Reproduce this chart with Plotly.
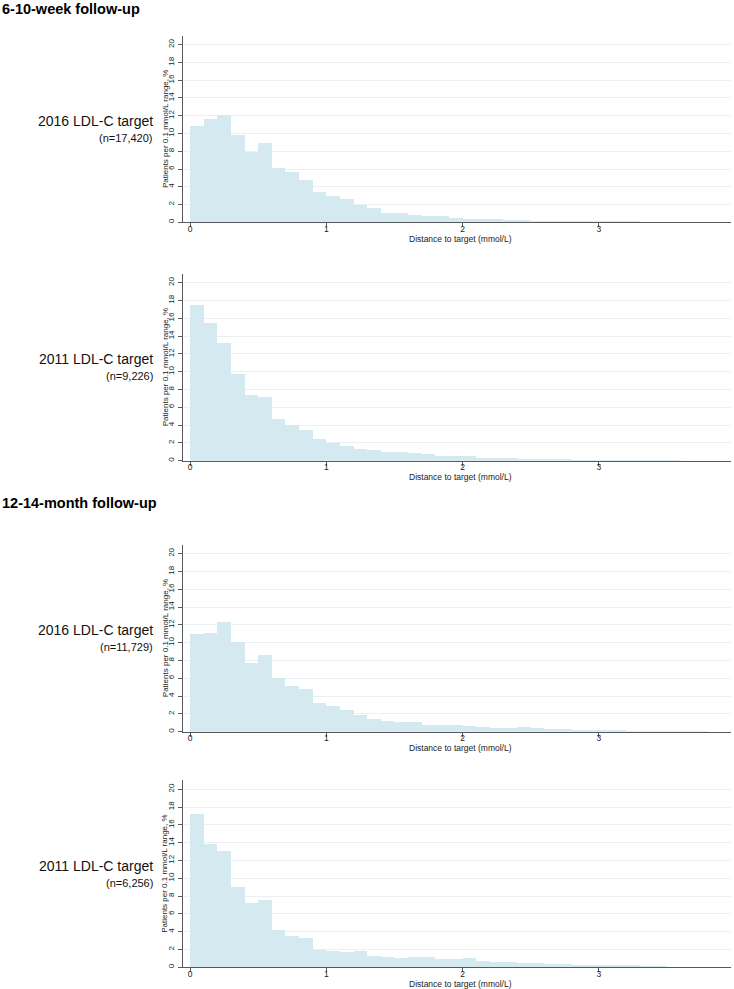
import plotly.graph_objects as go

# ---- data (percent of patients per 0.1 mmol/L bin, bins start at 0.0, 0.1, ...) ----
bin_width = 0.1
wk_2016 = [10.9, 11.6, 12.1, 9.85, 7.9, 9.0, 6.15, 5.65, 4.8, 3.4, 2.97, 2.6, 2.0, 1.62,
           1.12, 1.1, 0.9, 0.76, 0.68, 0.56, 0.45, 0.41, 0.34, 0.26, 0.23, 0.2, 0.17, 0.14,
           0.12, 0.1, 0.08, 0.07, 0.06, 0.05, 0.04, 0.03, 0.02, 0.02]
wk_2011 = [17.5, 15.45, 13.25, 9.72, 7.4, 7.14, 4.67, 4.07, 3.44, 2.43, 1.98, 1.7, 1.3, 1.22,
           0.97, 0.95, 0.85, 0.78, 0.55, 0.53, 0.5, 0.32, 0.3, 0.3, 0.19, 0.16, 0.15, 0.12,
           0.08, 0.06, 0.05, 0.05, 0.04, 0.02, 0.02, 0.01]
mo_2016 = [10.95, 11.15, 12.3, 10.15, 7.7, 8.7, 6.1, 5.2, 4.78, 3.28, 2.88, 2.52, 1.88, 1.42,
           1.26, 1.09, 1.09, 0.81, 0.84, 0.75, 0.68, 0.6, 0.5, 0.49, 0.52, 0.45, 0.38, 0.34,
           0.23, 0.23, 0.19, 0.15, 0.1, 0.06, 0.04, 0.03, 0.03, 0.02]
mo_2011 = [17.2, 13.8, 13.0, 8.95, 7.22, 7.48, 4.1, 3.46, 3.25, 1.95, 1.76, 1.72, 1.8, 1.27,
           1.12, 1.05, 1.14, 1.14, 0.85, 0.85, 1.0, 0.65, 0.56, 0.56, 0.45, 0.4, 0.34, 0.32,
           0.2, 0.18, 0.15, 0.14, 0.12, 0.02, 0.02]

series = [wk_2016, wk_2011, mo_2016, mo_2011]
row_labels = ["2016 LDL-C target", "2011 LDL-C target", "2016 LDL-C target", "2011 LDL-C target"]
row_ns = ["(n=17,420)", "(n=9,226)", "(n=11,729)", "(n=6,256)"]
headings = ["6-10-week follow-up", "12-14-month follow-up"]
y_ticks = [0, 2, 4, 6, 8, 10, 12, 14, 16, 18, 20]
x_ticks = [0, 1, 2, 3]
y_title = "Patients per 0.1 mmol/L range, %"
x_title = "Distance to target (mmol/L)"

# ---- layout geometry (viewport pixels) ----
W, H = 734, 989
FONT = "Liberation Sans, Arial, sans-serif"
BAR_COLOR = "#d5e9f0"
GRID = "#eaf1f3"
AXIS = "#55595c"
x_left, x_right = 183, 731
panels_px = [(35.8, 222.3), (273.8, 460.7), (544.7, 731.7), (780.3, 967.3)]
heading_y = [9, 503]


def px(vx):
    return vx / W


def py(vy):
    return 1 - vy / H


fig = go.Figure()
for i, vals in enumerate(series):
    ax = "" if i == 0 else str(i + 1)
    lefts = [k * bin_width for k in range(len(vals))]
    fig.add_trace(go.Bar(
        x=lefts, y=vals, width=bin_width, offset=0,
        marker=dict(color=BAR_COLOR, line=dict(width=0)),
        xaxis="x" + ax, yaxis="y" + ax, showlegend=False, hoverinfo="skip"))
    top, bot = panels_px[i]
    fig.layout["xaxis" + ax] = dict(
        domain=[px(x_left), px(x_right)], anchor="y" + ax, automargin=False,
        range=[-0.052, 3.97], tickvals=x_ticks, ticks="outside", ticklen=4,
        ticklabelstandoff=-6,
        tickcolor=AXIS, showline=True, linecolor=AXIS, linewidth=1,
        showgrid=False, zeroline=False,
        tickfont=dict(size=8.5, family=FONT, color="#222"))
    fig.layout["yaxis" + ax] = dict(
        domain=[py(bot), py(top)], anchor="x" + ax, automargin=False,
        range=[0, 21], tickvals=y_ticks, tickangle=-90, ticks="outside", ticklen=4,
        ticklabelstandoff=1,
        tickcolor=AXIS, showline=True, linecolor=AXIS, linewidth=1,
        showgrid=True, gridcolor=GRID, gridwidth=1, zeroline=False,
        tickfont=dict(size=8, family=FONT, color="#222"))
    # axis titles
    fig.add_annotation(x=px((x_left + x_right) / 2 + 3), y=py(bot + 16.5), xref="paper", yref="paper",
                       text=x_title, showarrow=False, xanchor="center", yanchor="middle",
                       font=dict(size=8.5, family=FONT, color="#222"))
    fig.add_annotation(x=px(165), y=py((top + bot) / 2), xref="paper", yref="paper",
                       text=y_title, showarrow=False, textangle=-90,
                       xanchor="center", yanchor="middle",
                       font=dict(size=8, family=FONT, color="#222"))
    mid = (top + bot) / 2
    fig.add_annotation(x=px(155), y=py(mid - 8), xref="paper", yref="paper",
                       text=row_labels[i], showarrow=False, xanchor="right", yanchor="middle",
                       font=dict(size=14, family=FONT, color="#111"))
    fig.add_annotation(x=px(155), y=py(mid + 9), xref="paper", yref="paper",
                       text=row_ns[i], showarrow=False, xanchor="right", yanchor="middle",
                       font=dict(size=11, family=FONT, color="#111"))

for j, h in enumerate(headings):
    fig.add_annotation(x=px(0), y=py(heading_y[j]), xref="paper", yref="paper",
                       text="<b>" + h + "</b>", showarrow=False, xanchor="left", yanchor="middle",
                       font=dict(size=14.5, family=FONT, color="#000"))

fig.update_layout(width=W, height=H, margin=dict(l=0, r=0, t=0, b=0),
                  paper_bgcolor="white", plot_bgcolor="white", bargap=0)
fig.write_html("out.html", config={"displayModeBar": False},
               post_script="document.body.style.margin='0';document.body.style.overflow='hidden';")
